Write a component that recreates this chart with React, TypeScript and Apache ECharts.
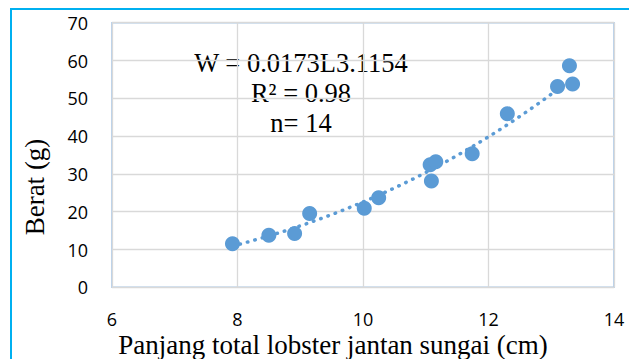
import React, { useEffect, useRef } from "react";
import * as echarts from "echarts";

const lengths = [7.92, 8.5, 8.91, 9.15, 10.02, 10.25, 11.09, 11.07, 11.16, 11.74, 12.3, 13.1, 13.34, 13.29];
const weights = [11.5, 13.8, 14.2, 19.5, 20.9, 23.7, 28.1, 32.4, 33.2, 35.3, 45.9, 53.1, 53.8, 58.6];
const xTicks = [6, 8, 10, 12, 14];
const yTicks = [0, 10, 20, 30, 40, 50, 60, 70];
const FIT_A = 0.0173;
const FIT_B = 3.1154;
const annotationLines = ["W = 0.0173L3.1154", "R² = 0.98", "n= 14"];
const xTitle = "Panjang total lobster jantan sungai (cm)";
const yTitle = "Berat (g)";

export default function App() {
  const ref = useRef<HTMLDivElement>(null);
  useEffect(() => {
    if (!ref.current) return;
    const chart = echarts.init(ref.current, null, { renderer: "svg" });
    const lMin = Math.min(...lengths);
    const lMax = Math.max(...lengths);
    const trend: number[][] = [];
    const steps = 60;
    for (let i = 0; i <= steps; i++) {
      const l = lMin + ((lMax - lMin) * i) / steps;
      trend.push([l, FIT_A * Math.pow(l, FIT_B)]);
    }
    const serif = "'Liberation Serif', 'Times New Roman', serif";
    const sans = "'Open Sans', sans-serif";
    chart.setOption({
      animation: false,
      backgroundColor: "#ffffff",
      grid: {
        left: 112,
        right: 15,
        top: 22.7,
        bottom: 71.7,
        show: true,
        borderColor: "#a4c5e8",
        borderWidth: 1.5,
        backgroundColor: "transparent",
      },
      xAxis: {
        type: "value",
        min: xTicks[0],
        max: xTicks[xTicks.length - 1],
        interval: 2,
        axisLine: { show: false },
        axisTick: { show: false },
        splitLine: { show: true, lineStyle: { color: "#d9d9d9", width: 1.3 } },
        axisLabel: { color: "#000", fontFamily: sans, fontSize: 18, margin: 23 },
      },
      yAxis: {
        type: "value",
        min: yTicks[0],
        max: yTicks[yTicks.length - 1],
        interval: 10,
        axisLine: { show: false },
        axisTick: { show: false },
        splitLine: { show: true, lineStyle: { color: "#d9d9d9", width: 1.3 } },
        axisLabel: { color: "#000", fontFamily: sans, fontSize: 18, margin: 24 },
      },
      series: [
        {
          type: "line",
          data: trend,
          showSymbol: false,
          symbol: "none",
          smooth: false,
          lineStyle: { color: "#5b9bd5", width: 3.5, type: [0.5, 7.2], cap: "round" },
          z: 2,
        },
        {
          type: "scatter",
          data: lengths.map((l, i) => [l, weights[i]]),
          symbol: "circle",
          symbolSize: 15,
          itemStyle: { color: "#5b9bd5", opacity: 1 },
          z: 3,
        },
      ],
      graphic: [
        {
          type: "rect",
          shape: { x: 11, y: 9, width: 700, height: 400 },
          style: { fill: "none", stroke: "#00b0f0", lineWidth: 2 },
          silent: true,
        },
        ...annotationLines.map((t, i) => ({
          type: "text",
          x: 301,
          y: 76 + i * 30,
          style: {
            text: t,
            fontFamily: serif,
            fontSize: 26.5,
            fill: "#000",
            align: "center",
            verticalAlign: "bottom",
          },
        })),
        {
          type: "text",
          x: 333,
          y: 345,
          style: {
            text: xTitle,
            fontFamily: serif,
            fontSize: 27,
            fill: "#000",
            align: "center",
            verticalAlign: "middle",
          },
        },
        {
          type: "text",
          x: 35,
          y: 187,
          rotation: Math.PI / 2,
          style: {
            text: yTitle,
            fontFamily: serif,
            fontSize: 27,
            fill: "#000",
            align: "center",
            verticalAlign: "middle",
          },
        },
      ],
    });
    return () => chart.dispose();
  }, []);
  return (
    <div
      ref={ref}
      style={{ position: "fixed", left: 0, top: 0, width: 629, height: 359 }}
    />
  );
}
